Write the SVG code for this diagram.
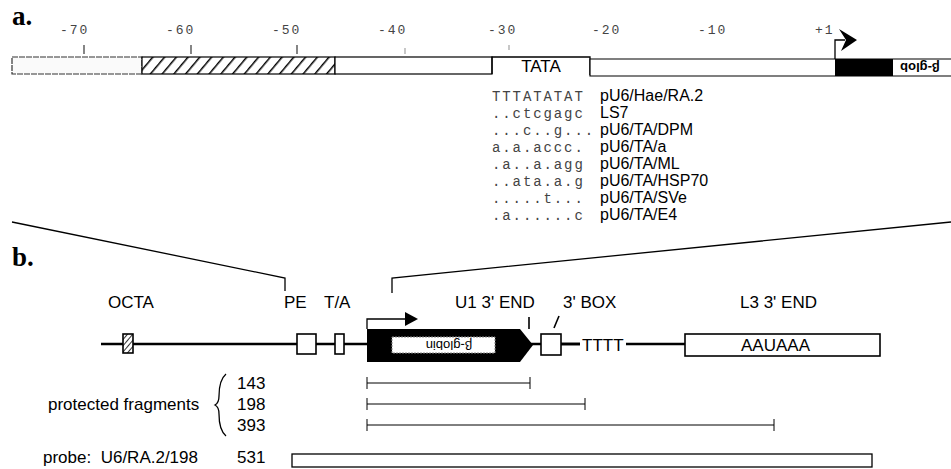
<svg xmlns="http://www.w3.org/2000/svg" width="951" height="469" viewBox="0 0 951 469">
<defs>
<style>
.lbl{font-family:"Liberation Serif",serif;font-weight:bold;font-size:27px;fill:#000}
.tick{font-family:"Liberation Mono",monospace;font-size:13px;fill:#444;letter-spacing:2px}
.seq{font-family:"Liberation Mono",monospace;font-size:14px;fill:#444;letter-spacing:1.9px}
.name{font-family:"Liberation Sans",Arial,sans-serif;font-size:16px;fill:#000}
.t{font-family:"Liberation Sans",Arial,sans-serif;font-size:17px;fill:#000}
.ln{stroke:#000;stroke-width:1.3;fill:none}
.box{fill:#fff;stroke:#000;stroke-width:1.6}
</style>
<pattern id="hatch" patternUnits="userSpaceOnUse" width="9" height="9" patternTransform="rotate(40)">
<rect width="9" height="9" fill="#fff"/>
<line x1="0" y1="0" x2="0" y2="9" stroke="#000" stroke-width="3"/>
</pattern>
<pattern id="hatch2" patternUnits="userSpaceOnUse" width="4" height="4" patternTransform="rotate(40)">
<rect width="4" height="4" fill="#fff"/>
<line x1="0" y1="0" x2="0" y2="4" stroke="#000" stroke-width="1.6"/>
</pattern>
</defs>

<!-- Panel a -->
<g id="panel-a-label"><text class="lbl" x="12" y="25">a.</text></g>

<g id="scale">
<text class="tick" x="60" y="34">-70</text>
<text class="tick" x="166" y="34">-60</text>
<text class="tick" x="272" y="34">-50</text>
<text class="tick" x="378" y="34">-40</text>
<text class="tick" x="488" y="34">-30</text>
<text class="tick" x="592" y="34">-20</text>
<text class="tick" x="698" y="34">-10</text>
<text class="tick" x="815" y="34">+1</text>
<g stroke="#444" stroke-width="1.3">
<line x1="84" y1="45" x2="84" y2="54"/>
<line x1="191" y1="45" x2="191" y2="54"/>
<line x1="297" y1="45" x2="297" y2="54"/>
<line x1="405" y1="48" x2="405" y2="54" stroke="#aaa"/>
<line x1="509" y1="45" x2="509" y2="50" stroke="#aaa"/>
</g>
</g>

<g id="promoter-bar">
<rect x="12" y="57" width="130" height="17" fill="#fafafa" stroke="#333" stroke-width="1.2" stroke-dasharray="6 1"/>
<rect x="142" y="57" width="193" height="17" fill="url(#hatch)" stroke="#000" stroke-width="1.2"/>
<rect x="335" y="57" width="157" height="17" fill="#fff" stroke="#000" stroke-width="1.2"/>
<path d="M492,74 V57 H590 V75" class="ln" stroke-width="1"/>
<text x="541" y="72" text-anchor="middle" font-family="Liberation Sans, Arial, sans-serif" font-size="17" fill="#000">TATA</text>
<path d="M951,59 H590 V76 H951" fill="#fff" stroke="#000" stroke-width="1.2"/>
<rect x="835" y="59" width="58" height="17" fill="#000"/>
<text transform="translate(920,67.5) rotate(180)" y="4.5" text-anchor="middle" font-family="Liberation Sans, Arial, sans-serif" font-weight="bold" font-size="13" fill="#000">β-glob</text>
<path d="M835,59 V40 H845" class="ln" stroke-width="2"/>
<polygon points="839,29 857,40 841,51 846,40" fill="#000"/>
</g>

<g id="sequences">
<text class="seq" x="492" y="101">TTTATATAT</text>
<text class="seq" x="492" y="118">..ctcgagc</text>
<text class="seq" x="492" y="135">...c..g...</text>
<text class="seq" x="492" y="152">a.a.accc.</text>
<text class="seq" x="492" y="169">.a..a.agg</text>
<text class="seq" x="492" y="186">..ata.a.g</text>
<text class="seq" x="492" y="203">.....t...</text>
<text class="seq" x="492" y="220">.a......c</text>
<text class="name" x="600" y="101">pU6/Hae/RA.2</text>
<text class="name" x="600" y="118">LS7</text>
<text class="name" x="600" y="135">pU6/TA/DPM</text>
<text class="name" x="600" y="152">pU6/TA/a</text>
<text class="name" x="600" y="169">pU6/TA/ML</text>
<text class="name" x="600" y="186">pU6/TA/HSP70</text>
<text class="name" x="600" y="203">pU6/TA/SVe</text>
<text class="name" x="600" y="220">pU6/TA/E4</text>
</g>

<!-- connectors: expansion lines from a to b -->
<g id="connectors">
<path d="M12,222 L285,278 V291" class="ln"/>
<path d="M951,222 L392,278 V293" class="ln"/>
</g>

<!-- Panel b -->
<g id="panel-b-label"><text class="lbl" x="12" y="266">b.</text></g>

<g id="labels-b">
<text class="t" x="108" y="308">OCTA</text>
<text class="t" x="284" y="308">PE</text>
<text class="t" x="324" y="308">T/A</text>
<text class="t" x="455" y="308">U1 3' END</text>
<text class="t" x="563" y="308">3' BOX</text>
<text class="t" x="740" y="308">L3 3' END</text>
</g>

<g id="gene-line"><line x1="101" y1="344" x2="685" y2="344" stroke="#000" stroke-width="2.6"/></g>
<g id="octa"><rect x="123" y="334" width="10" height="19" fill="url(#hatch2)" stroke="#000" stroke-width="1.6"/></g>
<g id="pe"><rect x="297" y="334" width="19" height="20" class="box"/></g>
<g id="ta"><rect x="335" y="334" width="9" height="20" class="box"/></g>
<g id="gene">
<polygon points="367,329 520,329 533,345 520,362 367,362" fill="#000"/>
<rect x="392" y="337" width="103" height="16" fill="#fff" stroke="#888" stroke-width="1" stroke-dasharray="2 1"/>
<text transform="translate(449,345) rotate(180)" y="4.5" text-anchor="middle" font-family="Liberation Sans, Arial, sans-serif" font-size="13" fill="#000">β-globin</text>
<path d="M367,329 V319 H408" class="ln" stroke-width="2.2"/>
<polygon points="405,312 418,319 405,326" fill="#000"/>
<line x1="529" y1="317" x2="529" y2="329" stroke="#000" stroke-width="1.6"/>
</g>
<g id="box3">
<rect x="541" y="334" width="20" height="21" class="box"/>
<line x1="554" y1="328" x2="559" y2="316" stroke="#000" stroke-width="1.6"/>
</g>
<g id="tttt">
<line x1="561" y1="344" x2="580" y2="344" stroke="#000" stroke-width="2.6"/>
<rect x="580" y="335" width="46" height="18" fill="#fff"/>
<text class="t" x="582" y="351">TTTT</text>
</g>
<g id="l3">
<rect x="685" y="334" width="195" height="22" class="box"/>
<text class="t" x="741" y="351">AAUAAA</text>
</g>

<g id="fragments">
<text class="t" x="48" y="410">protected fragments</text>
<path d="M226,374 Q219,380 219,396 Q219,403 215,405 Q219,407 219,414 Q219,430 226,436" class="ln" stroke-width="1"/>
<text class="t" x="237" y="389">143</text>
<text class="t" x="237" y="410">198</text>
<text class="t" x="237" y="431">393</text>
<g stroke="#000" stroke-width="1">
<line x1="367" y1="383" x2="530" y2="383"/>
<line x1="367" y1="377" x2="367" y2="389"/>
<line x1="530" y1="377" x2="530" y2="389"/>
<line x1="367" y1="404" x2="585" y2="404"/>
<line x1="367" y1="398" x2="367" y2="410"/>
<line x1="585" y1="398" x2="585" y2="410"/>
<line x1="367" y1="425" x2="774" y2="425"/>
<line x1="367" y1="419" x2="367" y2="431"/>
<line x1="774" y1="419" x2="774" y2="431"/>
</g>
</g>

<g id="probe">
<text class="t" x="43" y="463">probe:&#160; U6/RA.2/198</text>
<text class="t" x="237" y="463">531</text>
<rect x="292" y="454" width="580" height="13" fill="#fff" stroke="#000" stroke-width="1.3"/>
</g>
</svg>
